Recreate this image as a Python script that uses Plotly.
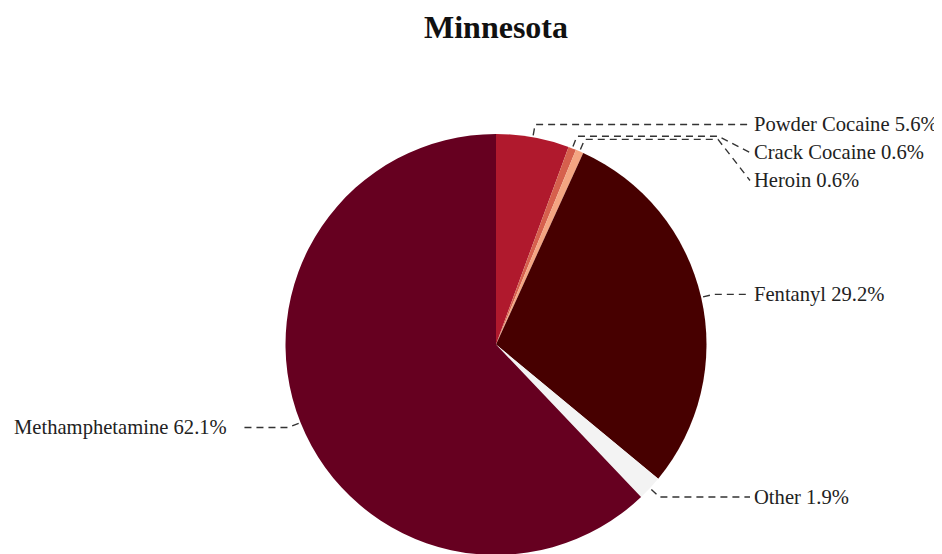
import math
import plotly.graph_objects as go

chart_title = "Minnesota"
labels = ["Powder Cocaine", "Crack Cocaine", "Heroin", "Fentanyl", "Other", "Methamphetamine"]
values = [5.6, 0.6, 0.6, 29.2, 1.9, 62.1]
colors = ["#b0192d", "#d6604d", "#f4a582", "#470000", "#f3f3f3", "#660020"]

W, H = 942, 554
ML, MR, MT, MB = 34, 0, 126, 7
pw, ph = W - ML - MR, H - MT - MB
R = min(pw, ph) / 2
cx, cy = ML + pw / 2, MT + ph / 2


def to_paper(px, py):
    return (px - ML) / pw, 1 - (py - MT) / ph


fig = go.Figure(go.Pie(
    labels=labels, values=values, sort=False, direction="clockwise", rotation=0,
    marker=dict(colors=colors, line=dict(width=0)),
    textinfo="none", hoverinfo="label+percent", showlegend=False,
))

total = sum(values)
cum = 0.0
items = []
for lab, v in zip(labels, values):
    mid = (cum + v / 2) / total
    cum += v
    ang = math.pi / 2 - 2 * math.pi * mid
    ca, sa = math.cos(ang), math.sin(ang)
    sx, sy = cx + (R + 2) * ca, cy - (R + 2) * sa
    ex, ey = cx + (R + 13) * ca, cy - (R + 13) * sa
    items.append(dict(text=f"{lab} {v / total * 100:.1f}%", sx=sx, sy=sy, ex=ex, ey=ey,
                      right=ca >= 0, ly=ey))

# simple label collision avoidance on each side
for side in (True, False):
    grp = sorted([it for it in items if it["right"] == side], key=lambda d: d["ey"])
    prev = None
    for it in grp:
        if prev is not None and it["ly"] < prev + 28:
            it["ly"] = prev + 28
        prev = it["ly"]

shapes = []
annotations = []
for it in items:
    if it["right"]:
        bx, lx, tx, anchor = 710, 742, 744, "left"
    else:
        bx, lx, tx, anchor = 254, 232, 221, "right"
    pts = [(it["sx"], it["sy"]), (it["ex"], it["ey"]), (bx, it["ey"]), (lx, it["ly"])]
    pp = [to_paper(*p) for p in pts]
    path = "M " + " L ".join(f"{x:.5f},{y:.5f}" for x, y in pp)
    shapes.append(dict(type="path", path=path, xref="paper", yref="paper",
                       line=dict(color="#333333", width=1.4, dash="7px,5px")))
    ax, ay = to_paper(tx, it["ly"])
    annotations.append(dict(x=ax, y=ay, xref="paper", yref="paper", text=it["text"],
                            showarrow=False, xanchor=anchor, yanchor="middle",
                            font=dict(family="Liberation Serif", size=20.6, color="#222222")))

fig.update_layout(
    width=W, height=H,
    margin=dict(l=ML, r=MR, t=MT, b=MB),
    paper_bgcolor="white", plot_bgcolor="white",
    title=dict(text="<b>" + chart_title + "</b>", x=0.5, xref="paper", xanchor="center",
               y=1 - 19 / H, yref="container", yanchor="middle",
               font=dict(family="Liberation Serif", size=32, color="#111111")),
    shapes=shapes, annotations=annotations,
)

fig.write_html("out.html")
